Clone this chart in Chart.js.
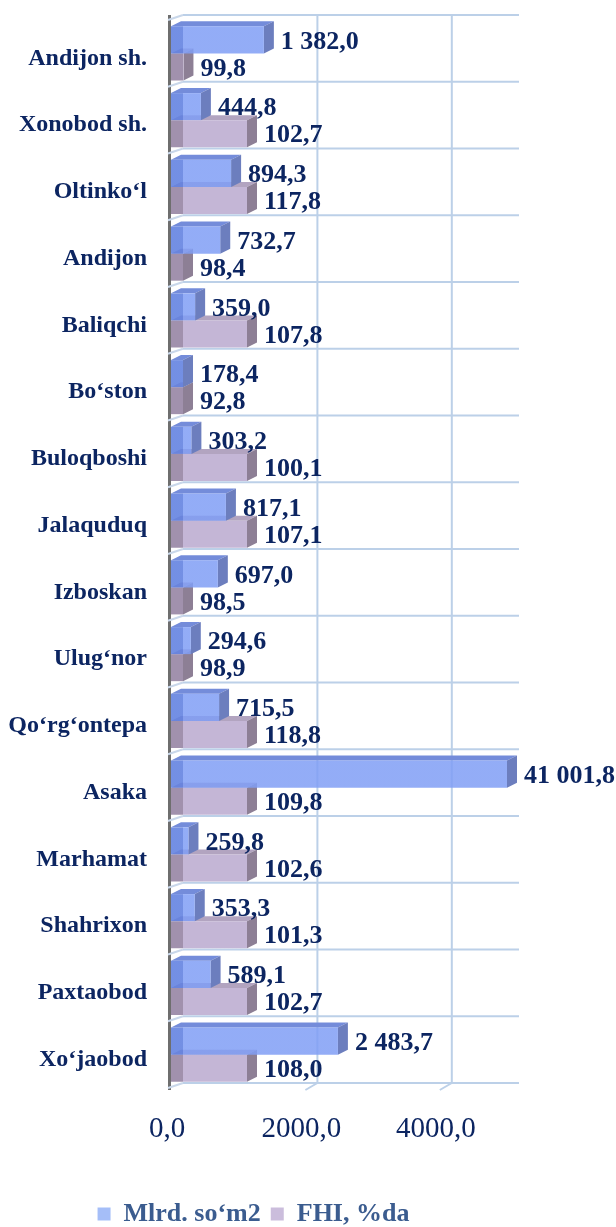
<!DOCTYPE html>
<html lang="uz">
<head>
<meta charset="UTF-8">
<title>Tumanlar</title>
<script src="https://cdn.jsdelivr.net/npm/chart.js@4.4.1/dist/chart.umd.min.js"></script>
<style>
  body { margin: 0; background: #fff; }
  #wrap { width: 616px; height: 1227px; position: relative; }
</style>
</head>
<body>
<div id="wrap"><canvas id="chart_area"></canvas></div>
<script>
// data
const districts = ['Andijon sh.', 'Xonobod sh.', 'Oltinko‘l', 'Andijon', 'Baliqchi', 'Bo‘ston',
    'Buloqboshi', 'Jalaquduq', 'Izboskan', 'Ulug‘nor', 'Qo‘rg‘ontepa', 'Asaka', 'Marhamat',
    'Shahrixon', 'Paxtaobod', 'Xo‘jaobod'];
const mlrd = [1382.0, 444.8, 894.3, 732.7, 359.0, 178.4, 303.2, 817.1, 697.0, 294.6, 715.5,
    41001.8, 259.8, 353.3, 589.1, 2483.7];
const fhi = [99.8, 102.7, 117.8, 98.4, 107.8, 92.8, 100.1, 107.1, 98.5, 98.9, 118.8, 109.8,
    102.6, 101.3, 102.7, 108.0];
const seriesNames = ['Mlrd. so‘m2', 'FHI, %da'];
const xTicks = [0, 2000, 4000];

const SERIF = "'Liberation Serif', 'Times New Roman', serif";
const NAVY = '#0c2561';

// 3d look
const DEPTH_X = 10, DEPTH_Y = -5;   // bar depth
const BACK_X = 12, BACK_Y = -5;     // back wall offset
const WALL = 12;                    // part of the bar inside the side wall

const fronts = [['rgba(96,128,224,0.88)', 'rgba(128,158,245,0.85)'], ['rgb(161,145,173)', 'rgb(196,182,214)']];
const faces = [{top: 'rgb(116,140,218)', side: 'rgb(108,126,190)'}, {top: 'rgb(178,164,192)', side: 'rgb(141,127,149)'}];
const legendColors = ['#a5bef8', '#cbbddc'];

function fmt(v) {
    return v.toFixed(1).replace('.', ',').replace(/\B(?=(\d{3})+(?!\d))/g, ' ');
}

function barFill(chart, i) {
    const a = chart.chartArea;
    if (!a) return fronts[i][1];
    const g = chart.ctx.createLinearGradient(a.left, 0, a.left + WALL, 0);
    g.addColorStop(0, fronts[i][0]);
    g.addColorStop(0.99, fronts[i][0]);
    g.addColorStop(1, fronts[i][1]);
    return g;
}

// visible part of a bar; the piece inside the side wall always shows
function barSpan(chart, meta, el) {
    const a = chart.chartArea;
    const ds = chart.data.datasets[meta.index];
    const right = a.right + (ds.clip && ds.clip.right ? ds.clip.right : 0);
    const x0 = Math.max(Math.min(el.base, el.x), a.left);
    const x1 = Math.min(Math.max(el.base, el.x), right);
    return [x0, Math.max(x1, a.left + WALL), x1 <= x0];
}

function line(ctx, x1, y1, x2, y2) {
    ctx.beginPath();
    ctx.moveTo(x1, y1);
    ctx.lineTo(x2, y2);
    ctx.stroke();
}

const wallPlugin = {
    id: 'wall',
    afterLayout(chart) {
        // legend sits a little lower in the original
        chart.legend.top += 10;
        chart.legend.bottom += 10;
    },
    beforeDatasetsDraw(chart) {
        const {ctx, chartArea: a, scales: {x}} = chart;
        const band = (a.bottom - a.top) / districts.length;
        ctx.save();
        ctx.strokeStyle = '#bcd0e8';
        ctx.lineWidth = 2;
        for (let i = 0; i <= districts.length; i++) {
            const yy = a.top + i * band + BACK_Y;
            line(ctx, a.left + BACK_X, yy, a.right + BACK_X, yy);
        }
        xTicks.filter(v => v > 0).forEach(v => {
            const px = x.getPixelForValue(v);
            line(ctx, px + BACK_X, a.top + BACK_Y, px + BACK_X, a.bottom + BACK_Y);
            line(ctx, px, a.bottom + 2, px + BACK_X, a.bottom + BACK_Y);
        });
        // side wall
        ctx.fillStyle = '#6e6e6e';
        ctx.fillRect(a.left - 3, a.top + BACK_Y, 3, a.bottom - a.top - BACK_Y + 2);
        ctx.strokeStyle = '#c9d7ea';
        for (let i = 0; i <= districts.length; i++) {
            const yy = a.top + i * band;
            line(ctx, a.left - 3, yy, a.left + BACK_X, yy + BACK_Y);
        }
        ctx.restore();
    },
    beforeDatasetDraw(chart, args) {
        const ctx = chart.ctx;
        const f = faces[args.index];
        ctx.save();
        args.meta.data.forEach(el => {
            const [x0, x1, hidden] = barSpan(chart, args.meta, el);
            const top = el.y - el.height / 2, bot = el.y + el.height / 2;
            if (hidden) {
                ctx.fillStyle = fronts[args.index][0];
                ctx.fillRect(x0, top, x1 - x0, bot - top);
            }
            ctx.fillStyle = f.top;
            ctx.beginPath();
            ctx.moveTo(x0, top);
            ctx.lineTo(x1, top);
            ctx.lineTo(x1 + DEPTH_X, top + DEPTH_Y);
            ctx.lineTo(x0 + DEPTH_X, top + DEPTH_Y);
            ctx.closePath();
            ctx.fill();
            ctx.fillStyle = f.side;
            ctx.beginPath();
            ctx.moveTo(x1, top);
            ctx.lineTo(x1 + DEPTH_X, top + DEPTH_Y);
            ctx.lineTo(x1 + DEPTH_X, bot + DEPTH_Y);
            ctx.lineTo(x1, bot);
            ctx.closePath();
            ctx.fill();
        });
        ctx.restore();
    },
    afterDatasetsDraw(chart) {
        const ctx = chart.ctx;
        ctx.save();
        ctx.font = 'bold 26px ' + SERIF;
        ctx.fillStyle = NAVY;
        ctx.textAlign = 'left';
        ctx.textBaseline = 'middle';
        chart.data.datasets.forEach((ds, i) => {
            const meta = chart.getDatasetMeta(i);
            meta.data.forEach((el, j) => {
                const end = barSpan(chart, meta, el)[1];
                ctx.fillText(fmt(ds.data[j]), end + DEPTH_X + 7, el.y + 2);
            });
        });
        ctx.restore();
    }
};

const config = {
    type: 'bar',
    data: {
        labels: districts,
        datasets: [{
            label: seriesNames[0],
            data: mlrd,
            xAxisID: 'x',
            backgroundColor: c => barFill(c.chart, 0),
            borderWidth: 0,
            clip: {left: 0, right: 0, top: false, bottom: false}
        }, {
            label: seriesNames[1],
            data: fhi,
            xAxisID: 'x2',
            backgroundColor: c => barFill(c.chart, 1),
            borderWidth: 0,
            clip: {left: 0, right: -260, top: false, bottom: false}
        }]
    },
    options: {
        indexAxis: 'y',
        responsive: true,
        maintainAspectRatio: false,
        animation: false,
        categoryPercentage: 0.81,
        barPercentage: 1.0,
        layout: {padding: {top: 20, right: 109, left: 0, bottom: 0}},
        scales: {
            x: {
                min: 0,
                max: 5000,
                afterBuildTicks: s => { s.ticks = xTicks.map(v => ({value: v})); },
                afterFit: s => { s.height = 93; },
                grid: {display: false, drawTicks: false},
                border: {display: false},
                ticks: {
                    callback: v => v.toFixed(1).replace('.', ','),
                    font: {family: SERIF, size: 29},
                    color: NAVY,
                    padding: 24,
                    labelOffset: -4,
                    maxRotation: 0
                }
            },
            x2: {
                axis: 'x',
                position: 'top',
                display: false,
                min: 99.75,
                max: 101.1
            },
            y: {
                afterFit: s => { s.width = 171; s.paddingTop = 0; s.paddingBottom = 0; },
                grid: {display: false, drawTicks: false},
                border: {display: false},
                ticks: {
                    font: {family: SERIF, size: 24, weight: 'bold'},
                    color: NAVY,
                    padding: 24,
                    labelOffset: 5
                }
            }
        },
        plugins: {
            tooltip: {enabled: false},
            legend: {
                position: 'bottom',
                labels: {
                    boxWidth: 13,
                    boxHeight: 13,
                    padding: 10,
                    color: '#3b5c8f',
                    font: {family: SERIF, size: 26, weight: 'bold'},
                    generateLabels: chart => Chart.defaults.plugins.legend.labels.generateLabels(chart)
                        .map((l, i) => Object.assign(l, {fillStyle: legendColors[i], strokeStyle: legendColors[i], lineWidth: 0}))
                }
            }
        }
    },
    plugins: [wallPlugin]
};

new Chart(document.getElementById('chart_area'), config);
</script>
</body>
</html>
